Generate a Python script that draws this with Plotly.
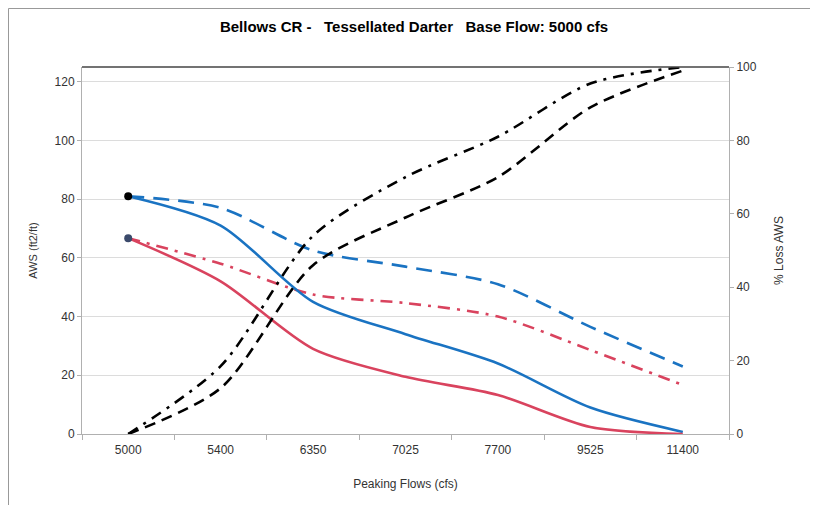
import plotly.graph_objects as go

categories = ["5000", "5400", "6350", "7025", "7700", "9525", "11400"]
aws_blue_solid = [81, 71, 45, 34, 24, 9, 0.7]
aws_blue_dash = [81, 77, 62.5, 57, 51, 36.5, 23]
aws_red_solid = [66.7, 52, 29, 19.5, 13.3, 2.4, 0]
aws_red_dashdot = [66.7, 58, 47.5, 44.6, 40, 28.6, 16.7]
loss_dashdot = [0, 18.5, 54, 70, 81, 95.5, 100]
loss_dash = [0, 12.5, 46, 59, 70, 89, 99]
left_ticks = [0, 20, 40, 60, 80, 100, 120]
right_ticks = [0, 20, 40, 60, 80, 100]

BLUE = "#1a73c2"
RED = "#d9435e"
FONT = "Liberation Sans, Arial, sans-serif"

fig = go.Figure()

def add(y, color, dash, yaxis="y", width=2.6):
    fig.add_trace(go.Scatter(
        x=categories, y=y, mode="lines", yaxis=yaxis,
        line=dict(color=color, width=width, dash=dash, shape="spline", smoothing=0.8),
        showlegend=False, hoverinfo="skip"))

add(aws_blue_dash, BLUE, "16px,9px")
add(aws_red_dashdot, RED, "12px,7px,3px,7px")
add(aws_blue_solid, BLUE, "solid")
add(aws_red_solid, RED, "solid")
add(loss_dashdot, "#000000", "11px,7px,3px,7px", "y2", 2.6)
add(loss_dash, "#000000", "11px,7px", "y2", 2.6)

fig.add_trace(go.Scatter(x=[categories[0]], y=[aws_blue_solid[0]], mode="markers",
                         marker=dict(color="#000000", size=8), showlegend=False, hoverinfo="skip"))
fig.add_trace(go.Scatter(x=[categories[0]], y=[aws_red_solid[0]], mode="markers",
                         marker=dict(color="#3b4a6b", size=8), showlegend=False, hoverinfo="skip"))

# page has an 8px body margin: figure coords = screen coords - 8
L, T, R, B = 74, 59, 721, 426
PW, PH = R - L, B - T

fig.update_layout(
    width=818, height=505,
    margin=dict(l=L, r=818 - R, t=T, b=505 - B, autoexpand=False),
    paper_bgcolor="white", plot_bgcolor="white",
    font=dict(family=FONT, size=12, color="#333333"),
    title=dict(text="<b>Bellows CR -   Tessellated Darter   Base Flow: 5000 cfs</b>",
               x=406 / 818, xanchor="center", y=1 - 19 / 505, yanchor="middle",
               font=dict(size=15, color="#000000", family=FONT)),
    xaxis=dict(type="category", range=[-0.5, 6.5], showgrid=False,
               showline=True, linecolor="#b0b0b0", linewidth=1, mirror=False,
               ticks="outside", tickson="boundaries", ticklen=5, tickcolor="#b0b0b0",
               ticklabelstandoff=5,
               tickfont=dict(size=12, color="#333333"),
               title=dict(text="Peaking Flows (cfs)", font=dict(size=12, color="#333333"), standoff=23)),
    yaxis=dict(range=[0, 125], tickvals=left_ticks, showgrid=True, gridcolor="#dcdcdc", gridwidth=1,
               showline=True, linecolor="#b0b0b0", linewidth=1,
               ticks="outside", ticklen=4, tickcolor="#b0b0b0", zeroline=False,
               tickfont=dict(size=12, color="#333333"),
               title=dict(text="AWS (ft2/ft)", font=dict(size=11, color="#333333"), standoff=14)),
    yaxis2=dict(range=[0, 100], tickvals=right_ticks, overlaying="y", side="right",
                showgrid=False, showline=True, linecolor="#b0b0b0", linewidth=1,
                ticks="outside", ticklen=4, tickcolor="#b0b0b0", zeroline=False,
                tickfont=dict(size=12, color="#333333"),
                title=dict(text="% Loss AWS", font=dict(size=12, color="#333333"), standoff=18)),
    shapes=[
        dict(type="line", xref="paper", yref="paper", x0=0, x1=1, y0=1, y1=1,
             line=dict(color="#444444", width=1.5)),
        dict(type="line", xref="paper", yref="paper",
             x0=(0.5 - L) / PW, x1=(0.5 - L) / PW, y0=(B - 505) / PH, y1=(B - 0.5) / PH,
             line=dict(color="#999999", width=1)),
        dict(type="line", xref="paper", yref="paper",
             x0=(0.5 - L) / PW, x1=(818 - L) / PW, y0=(B - 0.5) / PH, y1=(B - 0.5) / PH,
             line=dict(color="#999999", width=1)),
    ],
)

fig.write_html("out.html")
